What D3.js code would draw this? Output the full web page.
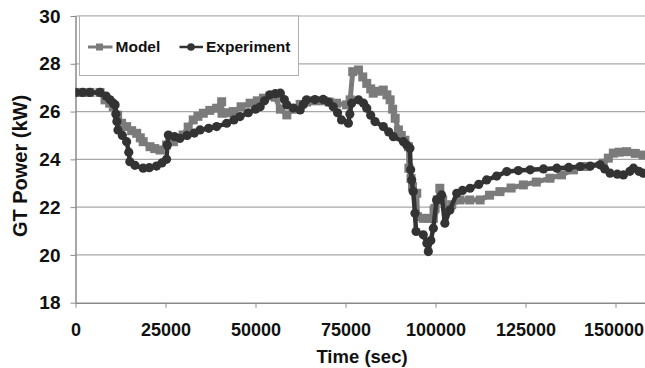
<!DOCTYPE html>
<html>
<head>
<meta charset="utf-8">
<script src="https://cdn.jsdelivr.net/npm/d3@7"></script>
<style>
  body { margin: 0; background: #fff; }
  text { font-family: "Liberation Sans", Arial, sans-serif; font-weight: bold; }
</style>
</head>
<body>
<svg id="chart" width="645" height="368"></svg>
<script>
// time (s) and GT power (kW)
const expTime = [0, 2000, 4000, 6800, 8500, 9600, 10500, 11000, 11200, 11500, 11800, 13000, 14200, 14800, 15100,
  16500, 18800, 20500, 22500, 24000, 25300, 25500, 25800, 27500, 29000, 31000, 33000, 34600, 37000, 39200,
  42000, 44000, 45700, 48000, 50000, 51300, 52500, 54000, 55500, 56900, 58000, 58700, 60500, 62400, 63300,
  64200, 66500, 68800, 70300, 71600, 72800, 73900, 75800, 76200, 76700, 78600, 80000, 80900, 82000, 83200,
  85500, 87000, 88300, 91100, 92000, 92900, 93100, 93400, 93800, 94300, 94600, 96600, 97600, 98000, 98700,
  99400, 100300, 101700, 102600, 104000, 105900, 107500, 109600, 112000, 114200, 117000, 119800, 123000,
  126300, 130000, 133700, 137000, 140200, 143000, 145700, 147000, 148500, 150500, 152200, 154000, 155000,
  156500, 157700];
const expPower = [26.8, 26.8, 26.8, 26.8, 26.65, 26.49, 26.35, 26.28, 25.9, 25.58, 25.23, 25.0, 24.74, 24.3, 23.9,
  23.75, 23.63, 23.65, 23.72, 23.85, 24.0, 24.6, 25.02, 24.95, 24.88, 25.0, 25.1, 25.23, 25.3, 25.37,
  25.51, 25.65, 25.79, 25.95, 26.1, 26.2, 26.45, 26.7, 26.75, 26.77, 26.5, 26.28, 26.15, 26.07, 26.3,
  26.49, 26.5, 26.51, 26.4, 26.2, 25.95, 25.65, 25.51, 25.9, 26.35, 26.49, 26.35, 26.14, 25.85, 25.58,
  25.37, 25.15, 24.95, 24.74, 24.6, 24.46, 23.56, 23.14, 22.65, 21.74, 20.98, 20.84, 20.49, 20.14, 20.6,
  21.12, 22.3, 22.51, 21.33, 21.88, 22.58, 22.7, 22.79, 22.95, 23.14, 23.3, 23.49, 23.53,
  23.56, 23.6, 23.63, 23.66, 23.7, 23.72, 23.77, 23.6, 23.42, 23.38, 23.35, 23.5, 23.63,
  23.5, 23.42];

const modelTime = [0, 2000, 4000, 6800, 8200, 9500, 10500, 11700, 12800, 14200, 15600, 17000, 18000, 18800, 20700,
  22000, 23500, 25300, 27200, 28500, 29900, 31300, 32700, 34000, 35500, 37300, 39200, 40600, 40700, 42000,
  43800, 46000, 48500, 50500, 52200, 54000, 55500, 56900, 58700, 60500, 62400, 64200, 66500, 68800, 70500,
  72500, 75300, 76300, 77000, 78600, 79800, 80900, 82000, 82700, 84000, 85500, 86500, 87400, 88100, 88800,
  89700, 90500, 91500, 92500, 92600, 93200, 93600, 94800, 95000, 96600, 98000, 99400, 99600, 99900, 100500,
  101200, 102000, 103100, 104500, 106800, 109500, 112400, 115000, 117900, 121000, 124400, 128000, 131800,
  135000, 138300, 142000, 146600, 148000, 149400, 151000, 153100, 155500, 157700];
const modelPower = [26.8, 26.8, 26.8, 26.8, 26.49, 26.35, 26.2, 25.85, 25.51, 25.37, 25.2, 25.09, 24.9, 24.74, 24.53,
  24.45, 24.39, 24.6, 24.74, 24.9, 25.02, 25.35, 25.65, 25.8, 25.93, 26.05, 26.14, 26.41, 25.93, 25.95,
  26.0, 26.2, 26.35, 26.45, 26.56, 26.65, 26.6, 26.1, 25.86, 26.1, 26.3, 26.4, 26.45, 26.45, 26.4,
  26.35, 26.28, 26.49, 27.67, 27.74, 27.45, 27.18, 26.95, 26.77, 26.85, 26.9, 26.7, 26.49, 26.1, 25.72,
  25.23, 25.0, 24.8, 24.53, 23.63, 23.2, 22.86, 22.58, 21.6, 21.53, 21.53, 21.53, 21.88, 21.95, 22.3,
  22.79, 22.3, 21.88, 22.1, 22.3, 22.3, 22.3, 22.5, 22.65, 22.8, 22.93, 23.05, 23.21,
  23.35, 23.56, 23.7, 23.84, 24.05, 24.26, 24.3, 24.32, 24.25, 24.18];

const xTicks = [0, 25000, 50000, 75000, 100000, 125000, 150000];
const yTicks = [18, 20, 22, 24, 26, 28, 30];

const svg = d3.select("#chart");

const plotLeft = 75.5, plotTop = 16, plotBottom = 302.7;
const x = d3.scaleLinear().domain([0, 160000]).range([plotLeft, 651.5]);
const y = d3.scaleLinear().domain([18, 30]).range([plotBottom, plotTop]);

// clip so nothing spills past the (cropped) right edge
svg.append("defs").append("clipPath").attr("id", "plot")
  .append("rect").attr("x", plotLeft).attr("y", 0).attr("width", 645 - plotLeft).attr("height", plotBottom + 6);

// gridlines
svg.append("g")
  .selectAll("line")
  .data(yTicks.slice(1))
  .enter()
  .append("line")
  .attr("x1", plotLeft).attr("x2", 645)
  .attr("y1", d => y(d)).attr("y2", d => y(d))
  .attr("stroke", "#a8a8a8")
  .attr("stroke-width", 1.2);

// axes
const xAxis = svg.append("g")
  .attr("transform", `translate(0,${plotBottom})`)
  .call(d3.axisBottom(x).tickValues(xTicks).tickSize(5).tickPadding(16).tickFormat(d3.format("d")));
xAxis.select(".domain").attr("stroke", "#8a8a8a").attr("stroke-width", 1.5)
  .attr("d", `M${plotLeft},0.5H645`);
xAxis.selectAll(".tick line").attr("stroke", "#8a8a8a");
xAxis.selectAll("text").attr("font-size", "18px").attr("fill", "#111");
// last label sits against the cropped right edge
xAxis.selectAll(".tick text").filter(d => d === 150000).attr("dx", "-2px");

const yAxis = svg.append("g")
  .attr("transform", `translate(${plotLeft},0)`)
  .call(d3.axisLeft(y).tickValues(yTicks).tickSize(5).tickPadding(10));
yAxis.select(".domain").attr("stroke", "#8a8a8a").attr("stroke-width", 1.5)
  .attr("d", `M0.5,${plotTop}V${plotBottom}`);
yAxis.selectAll(".tick line").attr("stroke", "#8a8a8a");
yAxis.selectAll("text").attr("font-size", "19px").attr("fill", "#111");

// axis titles
svg.append("text")
  .attr("x", 362).attr("y", 363)
  .attr("text-anchor", "middle")
  .attr("font-size", "18.5px")
  .attr("fill", "#111")
  .text("Time (sec)");

svg.append("text")
  .attr("transform", `translate(27,166) rotate(-90)`)
  .attr("text-anchor", "middle")
  .attr("font-size", "20px")
  .attr("fill", "#111")
  .text("GT Power (kW)");

// series
const modelData = modelTime.map((t, i) => [t, modelPower[i]]);
const expData = expTime.map((t, i) => [t, expPower[i]]);
const line = d3.line().x(d => x(d[0])).y(d => y(d[1]));

const plot = svg.append("g").attr("clip-path", "url(#plot)");

const modelColor = "#7b7b7b";
const expColor = "#333333";

plot.append("path")
  .datum(modelData)
  .attr("fill", "none")
  .attr("stroke", modelColor)
  .attr("stroke-width", 5)
  .attr("stroke-linejoin", "round")
  .attr("d", line);

plot.append("g")
  .selectAll("rect")
  .data(modelData)
  .enter()
  .append("rect")
  .attr("x", d => x(d[0]) - 4.5).attr("y", d => y(d[1]) - 4.5)
  .attr("width", 9).attr("height", 9)
  .attr("fill", modelColor);

plot.append("path")
  .datum(expData)
  .attr("fill", "none")
  .attr("stroke", expColor)
  .attr("stroke-width", 4.5)
  .attr("stroke-linejoin", "round")
  .attr("d", line);

plot.append("g")
  .selectAll("circle")
  .data(expData)
  .enter()
  .append("circle")
  .attr("cx", d => x(d[0])).attr("cy", d => y(d[1]))
  .attr("r", 4.6)
  .attr("fill", expColor);

// legend
const legend = svg.append("g");
legend.append("rect")
  .attr("x", 79.5).attr("y", 16)
  .attr("width", 219).attr("height", 59.5)
  .attr("fill", "#fff")
  .attr("stroke", "#b0b0b0");

legend.append("line")
  .attr("x1", 88).attr("x2", 112.5).attr("y1", 47).attr("y2", 47)
  .attr("stroke", modelColor).attr("stroke-width", 3);
legend.append("rect")
  .attr("x", 96).attr("y", 43.5).attr("width", 7).attr("height", 7)
  .attr("fill", modelColor);
legend.append("text")
  .attr("x", 115.5).attr("y", 52)
  .attr("font-size", "15.5px").attr("fill", "#111")
  .text("Model");

legend.append("line")
  .attr("x1", 179.5).attr("x2", 203).attr("y1", 47).attr("y2", 47)
  .attr("stroke", expColor).attr("stroke-width", 2.5);
legend.append("circle")
  .attr("cx", 191).attr("cy", 47).attr("r", 3.8)
  .attr("fill", expColor);
legend.append("text")
  .attr("x", 206).attr("y", 52)
  .attr("font-size", "15.5px").attr("fill", "#111")
  .text("Experiment");
</script>
</body>
</html>
